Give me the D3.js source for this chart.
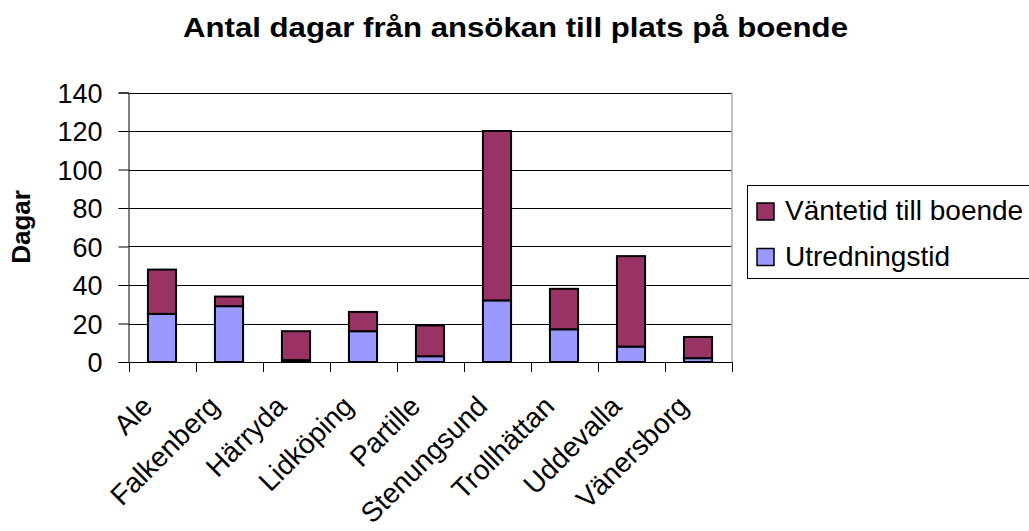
<!DOCTYPE html>
<html>
<head>
<meta charset="utf-8">
<script src="https://cdn.jsdelivr.net/npm/d3@7"></script>
<style>
body { margin:0; background:#fff; }
svg { font-family: Arial, "Liberation Sans", sans-serif; }
</style>
</head>
<body>
<svg id="graph"></svg>
<script>
var categories = ["Ale","Falkenberg","Härryda","Lidköping","Partille","Stenungsund","Trollhättan","Uddevalla","Vänersborg"]
var utredningstid = [25, 29, 1, 16, 3, 32, 17, 8, 2]
var vantetid = [23, 5, 15, 10, 16, 88, 21, 47, 11]
var seriesNames = ["Väntetid till boende","Utredningstid"]
var yTicks = [0,20,40,60,80,100,120,140]

var colors = {vant:"#993366", utr:"#9999FF"}

var screen = {width:1029,height:531}
var plot = {left:128.5,right:731.5,top:92.5,bottom:362}

var svg = d3.select("#graph")
.attr("width",screen.width)
.attr("height",screen.height)

var xscale = d3.scaleBand()
.domain(categories)
.range([plot.left,plot.right])
.paddingInner(0.58)
.paddingOuter(0.29)

var xslots = d3.scaleBand()
.domain(categories)
.range([plot.left,plot.right])

var yscale = d3.scaleLinear()
.domain([0,140])
.range([plot.bottom,plot.top])

// gridlines
svg.append("g")
.selectAll("line")
.data(yTicks)
.enter()
.append("line")
.attr("x1",plot.left)
.attr("x2",plot.right)
.attr("y1",function(d){ return Math.round(yscale(d))+0.5 })
.attr("y2",function(d){ return Math.round(yscale(d))+0.5 })
.attr("stroke","#000")
.attr("stroke-width",1)

// right border
svg.append("line")
.attr("x1",plot.right+0.5).attr("x2",plot.right+0.5)
.attr("y1",plot.top).attr("y2",plot.bottom)
.attr("stroke","#808080")

// bars
var rows = categories.map(function(c,i){
    return {cat:c, u:utredningstid[i], v:vantetid[i]}
})

var bars = svg.append("g")
bars.selectAll("rect.u")
.data(rows)
.enter()
.append("rect")
.attr("class","u")
.attr("x",function(d){ return xscale(d.cat) })
.attr("width",xscale.bandwidth())
.attr("y",function(d){ return yscale(d.u) })
.attr("height",function(d){ return yscale(0)-yscale(d.u) })
.attr("fill",colors.utr)
.attr("stroke","#000")
.attr("stroke-width",2)

bars.selectAll("rect.v")
.data(rows)
.enter()
.append("rect")
.attr("class","v")
.attr("x",function(d){ return xscale(d.cat) })
.attr("width",xscale.bandwidth())
.attr("y",function(d){ return yscale(d.u+d.v) })
.attr("height",function(d){ return yscale(d.u)-yscale(d.u+d.v) })
.attr("fill",colors.vant)
.attr("stroke","#000")
.attr("stroke-width",2)

// y axis
var yAxis = svg.append("g")
.attr("transform","translate("+plot.left+",0)")
.call(d3.axisLeft(yscale).tickValues(yTicks).tickSize(10).tickPadding(16))
yAxis.select(".domain").attr("stroke","#000")
yAxis.selectAll("line").attr("stroke","#000")
yAxis.selectAll("text")
.attr("font-size","27px")
.attr("font-family","Arial, 'Liberation Sans', sans-serif")
.attr("fill","#000")
.attr("dy","0.36em")

// x axis: ticks at category boundaries
var xAxis = svg.append("g")
xAxis.append("line")
.attr("x1",plot.left).attr("x2",plot.right)
.attr("y1",plot.bottom+0.5).attr("y2",plot.bottom+0.5)
.attr("stroke","#000")
var bounds = categories.map(function(c){ return xslots(c) }).concat([plot.right])
xAxis.selectAll("line.tick")
.data(bounds)
.enter()
.append("line")
.attr("class","tick")
.attr("x1",function(d){ return Math.round(d)+0.5 })
.attr("x2",function(d){ return Math.round(d)+0.5 })
.attr("y1",plot.bottom)
.attr("y2",plot.bottom+10)
.attr("stroke","#000")

xAxis.selectAll("text")
.data(categories)
.enter()
.append("text")
.attr("transform",function(d){
    var cx = xslots(d)+xslots.bandwidth()/2-8
    return "translate("+cx+",408) rotate(-45)"
})
.attr("text-anchor","end")
.attr("font-size","28px")
.text(function(d){ return d })

// title
svg.append("text")
.attr("x",515.5)
.attr("y",37)
.attr("text-anchor","middle")
.attr("font-size","28px")
.attr("font-weight","bold")
.attr("textLength",665)
.attr("lengthAdjust","spacingAndGlyphs")
.text("Antal dagar från ansökan till plats på boende")

// y title
svg.append("text")
.attr("transform","translate(30,227) rotate(-90)")
.attr("text-anchor","middle")
.attr("font-size","26px")
.attr("font-weight","bold")
.text("Dagar")

// legend
var legend = svg.append("g")
legend.append("rect")
.attr("x",747.5).attr("y",185.5)
.attr("width",300).attr("height",93)
.attr("fill","#fff")
.attr("stroke","#000")

var legendColors = [colors.vant, colors.utr]
var items = legend.selectAll("g.item")
.data(seriesNames)
.enter()
.append("g")
.attr("class","item")
.attr("transform",function(d,i){ return "translate(757,"+(203+i*45.5)+")" })
items.append("rect")
.attr("width",17).attr("height",17)
.attr("fill",function(d,i){ return legendColors[i] })
.attr("stroke","#000")
.attr("stroke-width",1.5)
items.append("text")
.attr("x",28)
.attr("y",17)
.attr("font-size","28px")
.text(function(d){ return d })
</script>
</body>
</html>
